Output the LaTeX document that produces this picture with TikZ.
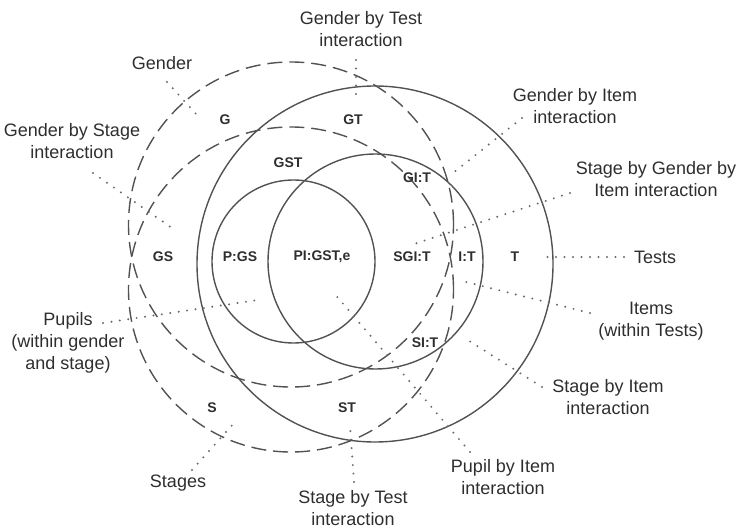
\documentclass[tikz,border=0pt]{standalone}
\usepackage{fontspec}
\setmainfont{Liberation Sans}
\begin{document}
\begin{tikzpicture}[x=1pt,y=-1pt,
  ring/.style={circle,draw=black!68,line width=1.4pt,inner sep=0pt},
  dring/.style={ring,dash pattern=on 15pt off 7pt},
  lab/.style={text=black!82,font=\fontsize{18}{22}\selectfont,align=center,inner sep=0pt},
  inl/.style={text=black!82,font=\fontsize{14}{16}\selectfont\bfseries,inner sep=0pt},
  leader/.style={draw=black!58,line width=2.2pt,line cap=round,dash pattern=on 0pt off 8.5pt}]
\useasboundingbox (0,0) rectangle (738,529);
% circles
\node[dring,minimum size=325pt] (Gc) at (291,224.5) {};
\node[dring,minimum size=325pt] (Sc) at (291,289.5) {};
\node[ring,minimum size=356pt] (Tc) at (375,264) {};
\node[ring,minimum size=215pt] (Ic) at (375.5,261.5) {};
\node[ring,minimum size=163pt] (Pc) at (293.5,261.5) {};
% inner labels
\node[inl] (G) at (225,120) {G};
\node[inl] (GT) at (353,120) {GT};
\node[inl] (GST) at (288,163) {GST};
\node[inl] (GS) at (163,257) {GS};
\node[inl] (PGS) at (240,257) {P:GS};
\node[inl] (PI) at (322,257) {PI:GST,e};
\node[inl] (GIT) at (417,178) {GI:T};
\node[inl] (SGIT) at (412,257) {SGI:T};
\node[inl] (IT) at (467,257) {I:T};
\node[inl] (T) at (515,257) {T};
\node[inl] (SIT) at (425,343) {SI:T};
\node[inl] (S) at (212,408) {S};
\node[inl] (ST) at (347,408) {ST};
% outer labels
\node[lab] (lGT) at (361,29) {Gender by Test\\interaction};
\node[lab] (lG) at (162,63) {Gender};
\node[lab] (lGS) at (72,141) {Gender by Stage\\interaction};
\node[lab] (lGI) at (575,106) {Gender by Item\\interaction};
\node[lab] (lSGI) at (656,179) {Stage by Gender by\\Item interaction};
\node[lab] (lT) at (655,257) {Tests};
\node[lab] (lI) at (651,321) {Items\\(within Tests)};
\node[lab] (lP) at (68,343) {Pupils\\(within gender\\and stage)};
\node[lab] (lSI) at (608,397) {Stage by Item\\interaction};
\node[lab] (lPI) at (503,477) {Pupil by Item\\interaction};
\node[lab] (lS) at (178,483) {Stages};
\node[lab] (lST) at (353,508) {Stage by Test\\interaction};
% leader coordinates
\coordinate (a1) at (356,60);   \coordinate (b1) at (356,101);
\coordinate (a2) at (167,82);   \coordinate (b2) at (197,115);
\coordinate (a3) at (93,173);   \coordinate (b3) at (172,228);
\coordinate (a4) at (522,118);  \coordinate (b4) at (453,173);
\coordinate (a5) at (570,193);  \coordinate (b5) at (411,245);
\coordinate (a6) at (624,257);  \coordinate (b6) at (540,257);
\coordinate (a7) at (590,313);  \coordinate (b7) at (466,282);
\coordinate (a8) at (542,387);  \coordinate (b8) at (463,337);
\coordinate (a9) at (470,452);  \coordinate (b9) at (333,292);
\coordinate (a10) at (103,323); \coordinate (b10) at (258,300);
\coordinate (a11) at (192,470); \coordinate (b11) at (235,422);
\coordinate (a12) at (354,482); \coordinate (b12) at (350,425);
\foreach \i in {1,...,12} {\path[leader] (a\i) -- (b\i);}
\end{tikzpicture}
\end{document}
